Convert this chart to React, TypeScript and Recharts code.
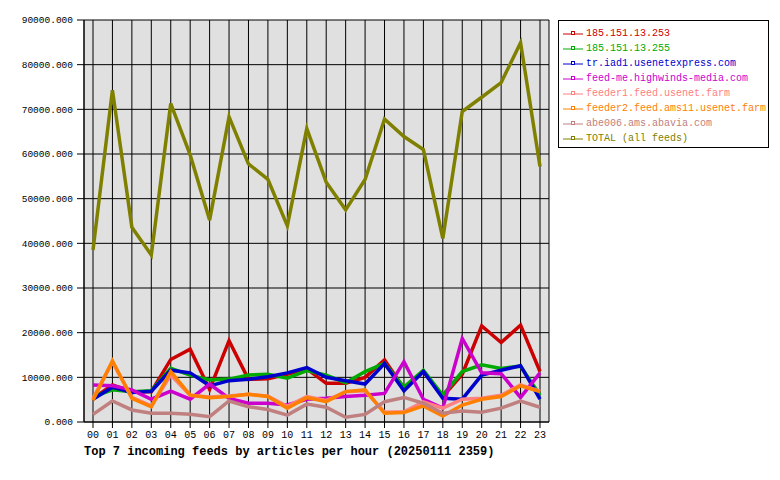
import { LineChart, Line, CartesianGrid, XAxis, YAxis } from 'recharts'

const hours = ['00', '01', '02', '03', '04', '05', '06', '07', '08', '09', '10', '11', '12', '13', '14', '15', '16', '17', '18', '19', '20', '21', '22', '23']

const feed253 = [5300, 8300, 6800, 6800, 14000, 16300, 7300, 18200, 9550, 9700, 10700, 11900, 8650, 8650, 10000, 13900, 7500, 11300, 5700, 10700, 21500, 17800, 21700, 11300]
const feed255 = [5700, 7200, 6800, 7000, 12000, 10500, 9400, 9600, 10500, 10700, 9800, 11500, 10500, 8800, 11300, 13100, 7800, 11600, 6000, 11300, 12800, 12000, 12500, 6000]
const usenetexpress = [5100, 7800, 6600, 6900, 11600, 11000, 8100, 9250, 9550, 10150, 11000, 12200, 10000, 9250, 8500, 13100, 7000, 11300, 5300, 5100, 10500, 11600, 12600, 5100]
const highwinds = [8300, 8100, 7200, 5100, 6900, 5100, 8500, 5300, 4200, 4200, 3800, 5100, 5300, 5700, 6000, 6400, 13500, 5100, 3100, 18700, 11000, 10800, 5500, 11000]
const feeder1 = [5300, 13400, 5500, 3600, 10500, 6000, 5600, 5800, 6200, 5800, 3500, 5700, 4800, 6800, 7000, 2200, 2300, 4500, 3100, 5100, 5300, 6000, 8300, 6900]
const feeder2 = [4900, 13700, 5300, 3400, 11300, 6000, 5450, 5700, 6200, 5700, 3100, 5450, 4550, 6800, 7200, 1950, 2100, 3600, 1350, 3800, 5100, 5700, 8100, 6800]
const abavia = [1700, 4700, 2700, 1950, 1950, 1750, 1200, 4700, 3400, 2800, 1550, 4000, 3300, 1050, 1700, 4550, 5500, 4200, 1950, 2450, 2200, 3100, 4700, 3300]
const total = [38500, 74300, 43600, 37400, 71300, 59800, 45200, 68300, 57800, 54300, 43900, 65700, 53700, 47500, 54300, 67800, 63900, 61000, 41100, 69500, 72700, 76000, 84900, 57200]

const yTicks = [0, 10000, 20000, 30000, 40000, 50000, 60000, 70000, 80000, 90000]

const series = [
  { key: 'f253', name: '185.151.13.253', color: '#CC0000', values: feed253 },
  { key: 'f255', name: '185.151.13.255', color: '#00AA00', values: feed255 },
  { key: 'iad1', name: 'tr.iad1.usenetexpress.com', color: '#0000CC', values: usenetexpress },
  { key: 'hw', name: 'feed-me.highwinds-media.com', color: '#CC00CC', values: highwinds },
  { key: 'fd1', name: 'feeder1.feed.usenet.farm', color: '#FF8080', values: feeder1 },
  { key: 'fd2', name: 'feeder2.feed.ams11.usenet.farm', color: '#FF8000', values: feeder2 },
  { key: 'abe', name: 'abe006.ams.abavia.com', color: '#C08080', values: abavia },
  { key: 'total', name: 'TOTAL (all feeds)', color: '#808000', values: total },
]

const data = hours.map((h, i) => {
  const row: Record<string, string | number> = { hour: h }
  for (const s of series) row[s.key] = s.values[i]
  return row
})

const mono = '"Liberation Mono", "DejaVu Sans Mono", monospace'

export default function App() {
  return (
    <div style={{ position: 'absolute', left: 0, top: 0, width: 780, height: 480, background: '#fff' }}>
      <LineChart width={780} height={480} data={data} margin={{ top: 20, right: 231, bottom: 0, left: 0 }}>
        <CartesianGrid fill="#E0E0E0" stroke="#000" strokeWidth={1} />
        <XAxis
          dataKey="hour"
          height={58}
          padding={{ left: 9, right: 9 }}
          interval={0}
          tickSize={6}
          tickMargin={3}
          stroke="#000"
          tick={{ fill: '#000', fontSize: 10, fontFamily: mono }}
          tickLine={{ stroke: '#000' }}
        />
        <YAxis
          width={84}
          domain={[0, 90000]}
          ticks={yTicks}
          tickSize={7}
          tickMargin={4}
          stroke="#000"
          tickFormatter={(v: number) => v.toFixed(3)}
          tick={{ fill: '#000', fontSize: 9.5, fontFamily: mono }}
        />
        <YAxis yAxisId="edge" orientation="right" width={0} tick={false} tickLine={false} stroke="#000" domain={[0, 90000]} />
        {series.map((s) => (
          <Line
            key={s.key}
            type="linear"
            dataKey={s.key}
            name={s.name}
            stroke={s.color}
            strokeWidth={3.5}
            dot={false}
            activeDot={false}
            isAnimationActive={false}
          />
        ))}
      </LineChart>
      <div
        style={{
          position: 'absolute',
          left: 84,
          top: 445,
          fontFamily: mono,
          fontSize: 12,
          fontWeight: 'bold',
          color: '#000',
          whiteSpace: 'nowrap',
        }}
      >
        Top 7 incoming feeds by articles per hour (20250111 2359)
      </div>
      <div
        style={{
          position: 'absolute',
          left: 558,
          top: 20,
          width: 211,
          height: 128,
          border: '1px solid #000',
          background: '#fff',
          boxSizing: 'border-box',
          paddingTop: 5,
        }}
      >
        {series.map((s) => (
          <div key={s.key} style={{ display: 'flex', alignItems: 'center', height: 15 }}>
            <svg width={24} height={10} style={{ marginLeft: 3, flex: 'none' }}>
              <line x1={1} y1={5} x2={21} y2={5} stroke={s.color} strokeWidth={1} />
              <rect x={9.5} y={2.5} width={3} height={3} fill="#fff" stroke={s.color} strokeWidth={1} />
            </svg>
            <span style={{ fontFamily: mono, fontSize: 10, color: s.color, whiteSpace: 'nowrap' }}>{s.name}</span>
          </div>
        ))}
      </div>
    </div>
  )
}
